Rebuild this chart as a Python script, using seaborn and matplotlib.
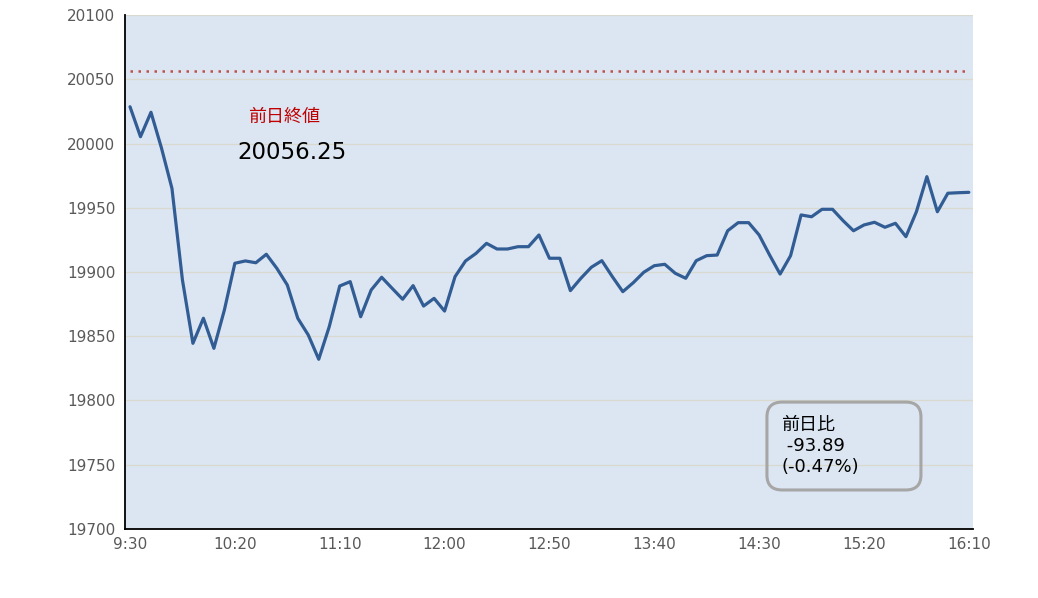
import numpy as np
import pandas as pd
import seaborn as sns
import matplotlib.pyplot as plt
from matplotlib.patches import FancyBboxPatch

sns.set_style("white")
plt.rcParams['font.family'] = ['DejaVu Sans', 'Noto Sans CJK JP']

# 5-minute prices from 9:30 to 16:10
prices = [20028.6, 20005.3, 20024.3, 19996.5, 19965.1, 19893.8, 19844.5, 19864.0, 19840.6, 19870.4,
          19906.8, 19908.6, 19907.2, 19913.8, 19902.9, 19889.9, 19864.0, 19851.0, 19832.1, 19857.4,
          19889.1, 19892.5, 19865.2, 19886.0, 19895.9, 19887.3, 19878.8, 19889.4, 19873.5, 19879.5,
          19869.6, 19896.4, 19908.6, 19914.5, 19922.3, 19917.9, 19917.9, 19919.7, 19919.7, 19928.8,
          19910.7, 19910.7, 19885.5, 19895.1, 19903.7, 19908.8, 19896.4, 19884.7, 19891.7, 19899.8,
          19904.9, 19906.0, 19899.0, 19895.1, 19908.8, 19912.7, 19913.2, 19932.1, 19938.4, 19938.4,
          19928.8, 19913.2, 19898.4, 19912.7, 19944.4, 19943.0, 19948.8, 19948.8, 19940.0, 19932.1,
          19936.6, 19938.7, 19934.8, 19937.9, 19927.5, 19946.9, 19974.2, 19946.9, 19961.3, 19961.7,
          19962.0]
tick_labels = ["9:30", "10:20", "11:10", "12:00", "12:50", "13:40", "14:30", "15:20", "16:10"]
tick_index = [0, 10, 20, 30, 40, 50, 60, 70, 80]
prev_close = 20056.25
change_label = "前日比\n -93.89\n(-0.47%)"

df = pd.DataFrame({"idx": np.arange(len(prices)), "price": prices})

fig = plt.figure(figsize=(10.38, 5.98), dpi=100)
ax = fig.add_axes([0.1204, 0.1154, 0.8170, 0.8595])
ax.set_facecolor("#DCE6F2")

ax.set_ylim(19700, 20100)
ax.set_yticks(np.arange(19700, 20101, 50))
ax.yaxis.grid(True, color="#D9D9D0", linewidth=0.9)
ax.set_axisbelow(True)

sns.lineplot(data=df, x="idx", y="price", color="#325D94", linewidth=2.3, ax=ax)
ax.hlines(prev_close, 0, len(prices) - 1, colors="#C0504D", linestyles=(0, (1, 2.2)), linewidth=1.8)

ax.set_xlim(-0.48, 80.4)
ax.set_xticks(tick_index)
ax.set_xticklabels(tick_labels)
ax.set_xticks(list(np.arange(4.5, 75, 10)) + [79.5], minor=True)
ax.tick_params(axis="x", which="major", length=0, pad=6, labelsize=11, labelcolor="#595959")
ax.tick_params(axis="x", which="minor", direction="in", length=4, width=1.2, color="black")
ax.tick_params(axis="y", length=0, pad=7, labelsize=11, labelcolor="#595959")
ax.set_xlabel("")
ax.set_ylabel("")

for s in ["top", "right"]:
    ax.spines[s].set_visible(False)
for s in ["left", "bottom"]:
    ax.spines[s].set_color("black")
    ax.spines[s].set_linewidth(1.3)

ax.text(0.187, 0.802, "前日終値", transform=ax.transAxes, ha="center", va="center",
        fontsize=13, color="#C00000")
ax.text(0.197, 0.733, f"{prev_close:.2f}", transform=ax.transAxes, ha="center", va="center",
        fontsize=16.5, color="black")

box = FancyBboxPatch((0.757, 0.0759), 0.1816, 0.171, transform=ax.transAxes,
                     boxstyle="round,pad=0,rounding_size=0.018", facecolor="none",
                     edgecolor="#A6A6A6", linewidth=2.2, mutation_aspect=1.6)
ax.add_patch(box)
ax.text(0.7736, 0.1615, change_label, transform=ax.transAxes, ha="left", va="center",
        fontsize=13, color="black", linespacing=1.2)

fig.savefig("out.png", dpi=100)
